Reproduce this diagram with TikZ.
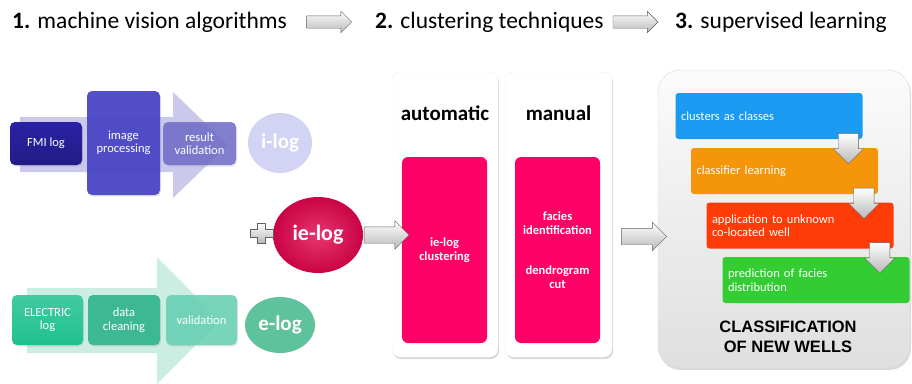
\documentclass[tikz,border=0pt]{standalone}
\usepackage{fontspec}
\setmainfont{Carlito}
\newfontfamily\arialfont{Liberation Sans}
\usepackage{xcolor}
\usetikzlibrary{arrows,shapes,calc,positioning,shadows}
\definecolor{fmiblue}{HTML}{2A22A6}
\definecolor{imgblue}{HTML}{4B47C6}
\definecolor{resblue}{HTML}{716ECB}
\definecolor{ilogblue}{HTML}{D3D3F3}
\definecolor{bigblue}{HTML}{BDBBE6}
\definecolor{elecgreen}{HTML}{1FC18F}
\definecolor{cleangreen}{HTML}{3CB893}
\definecolor{validgreen}{HTML}{66D2B3}
\definecolor{eloggreen}{HTML}{5EC29C}
\definecolor{biggreen}{HTML}{BFE9D9}
\definecolor{iepink}{HTML}{FF0066}
\definecolor{ielogred}{HTML}{E0044C}
\definecolor{stageblue}{HTML}{1A9AF0}
\definecolor{stageorange}{HTML}{F5950A}
\definecolor{stagered}{HTML}{FF3B08}
\definecolor{stagegreen}{HTML}{33CC33}

\begin{document}
\begin{tikzpicture}[x=1pt,y=-1pt]
		\tikzstyle{every node}=[font=\fontsize{12.5}{13.5}\selectfont, inner sep=0pt]
		\tikzstyle{logbox}=[rectangle, rounded corners=5pt, text=white, align=center, drop shadow={opacity=0.2, shadow xshift=1pt, shadow yshift=-1.5pt}]
		\tikzstyle{logcircle}=[ellipse, text=white, font=\fontsize{21}{24}\selectfont\bfseries]
		\tikzstyle{panel}=[rectangle, rounded corners=8pt, fill=white, draw=gray!15, minimum height=285pt, drop shadow={opacity=0.3, shadow xshift=1pt, shadow yshift=-2pt}]
		\tikzstyle{pinkbox}=[rectangle, rounded corners=6pt, fill=iepink, text=white, font=\fontsize{12.5}{13.5}\selectfont\bfseries, align=center, minimum width=85pt, minimum height=186pt]
		\tikzstyle{stagebox}=[rectangle, rounded corners=3pt, text=white, align=left, inner xsep=5.5pt, text width=176pt, minimum height=46pt]
		\tikzstyle{blockarrow}=[single arrow, draw=gray!75!black, top color=white, bottom color=gray!55, inner sep=8pt, single arrow head extend=6pt, minimum height=45pt]
		\tikzstyle{titlearrow}=[blockarrow, inner sep=6pt, single arrow head extend=4.5pt]
		\tikzstyle{downarrow}=[blockarrow, shape border rotate=270, inner sep=10pt, single arrow head extend=5pt, minimum height=30pt]
		\tikzstyle{steptitle}=[anchor=west, font=\fontsize{23.5}{26}\selectfont]
		\useasboundingbox (0,0) rectangle (912,383);

		\node [steptitle] (t1) at (12,22) {\textbf{1.} machine vision algorithms};
		\node [steptitle] (t2) at (375,22) {\textbf{2.} clustering techniques};
		\node [steptitle] (t3) at (675,22) {\textbf{3.} supervised learning};
		\node [titlearrow] (a12) at ($(t1.east)!0.5!(t2.west)+(-5,0)$) {};
		\node [titlearrow] (a23) at ($(t2.east)!0.5!(t3.west)+(-7,0)$) {};

		\fill [bigblue, opacity=0.8] (20,117) -- (173,117) -- (173,92) -- (228,145) -- (173,198) -- (173,172) -- (20,172) -- cycle;
		\node [logbox, top color=fmiblue, bottom color=fmiblue!80!black, minimum width=72pt, minimum height=43pt] (fmi) at (46,143.5) {FMI log};
		\node [logbox, fill=imgblue, fill opacity=0.95, text opacity=1, minimum width=73pt, minimum height=104pt] (imgproc) at (123.5,143) {image\\processing};
		\node [logbox, fill=resblue, fill opacity=0.85, text opacity=1, minimum width=73pt, minimum height=43pt] (resval) at (199.5,143.5) {result\\validation};
		\node [logcircle, fill=ilogblue, minimum width=64pt, minimum height=60pt] (ilog) at (280,143) {i-log};

		\fill [biggreen, opacity=0.8] (27,288) -- (157,288) -- (157,257) -- (220,320.5) -- (157,384) -- (157,353) -- (27,353) -- cycle;
		\node [logbox, top color=elecgreen!85!white, bottom color=elecgreen, minimum width=71pt, minimum height=50pt] (elec) at (47.5,320) {ELECTRIC\\log};
		\node [logbox, fill=cleangreen, minimum width=72pt, minimum height=50pt] (clean) at (124,320) {data\\cleaning};
		\node [logbox, fill=validgreen, fill opacity=0.85, text opacity=1, minimum width=71pt, minimum height=50pt] (valid) at (201.5,320) {validation};
		\node [logcircle, fill=eloggreen, minimum width=70pt, minimum height=56pt] (elog) at (280,325) {e-log};

		\node [logcircle, inner color=ielogred!80!white, outer color=ielogred!90!black, minimum width=90pt, minimum height=76pt, font=\fontsize{22}{24}\selectfont\bfseries] (ielog) at (318,235) {ie-log};
		\draw [draw=gray!75!black, top color=white, bottom color=gray!55, shift={(261.5,233)}] (-4,-10) -- (4,-10) -- (4,-4) -- (11.5,-4) -- (11.5,4) -- (4,4) -- (4,10) -- (-4,10) -- (-4,4) -- (-11.5,4) -- (-11.5,-4) -- (-4,-4) -- cycle;

		\node [panel, minimum width=106pt] (autopanel) at (445,214.5) {};
		\node [panel, minimum width=107pt] (manpanel) at (558.5,214.5) {};
		\node [font=\fontsize{21}{24}\selectfont\bfseries] (autotitle) at (445,113) {automatic};
		\node [font=\fontsize{21}{24}\selectfont\bfseries] (mantitle) at (558.5,113) {manual};
		\node [pinkbox] (autobox) at (444.5,250) {ie-log\\clustering};
		\node [pinkbox] (manbox) at (557.5,250) {facies\\identification\\[27pt]dendrogram\\cut};
		\node [blockarrow] (a1) at ($(ielog.east)!0.5!(autobox.west |- ielog.east)$) {};

		\node [rectangle, rounded corners=22pt, draw=gray!30, top color=gray!3, bottom color=gray!25, minimum width=252pt, minimum height=298pt, drop shadow={opacity=0.3, shadow xshift=1pt, shadow yshift=-2pt}] (clspanel) at (784,219) {};
		\node [blockarrow] (a2) at ($(manpanel.east |- ielog)!0.5!(clspanel.west |- ielog)+(5,1.5)$) {};
		\node [stagebox, fill=stageblue] (classes) at (769,116) {clusters as classes};
		\node [stagebox, fill=stageorange] (learn) at (784.5,171) {classifier learning};
		\node [stagebox, fill=stagered] (apply) at (800,225.5) {application to unknown\\co-located well};
		\node [stagebox, fill=stagegreen] (predict) at (816,280) {prediction of facies\\distribution};
		\node [downarrow] (d1) at ($(classes.south east)!0.5!(learn.north east)+(-22,0)$) {};
		\node [downarrow] (d2) at ($(learn.south east)!0.5!(apply.north east)+(-22,0)$) {};
		\node [downarrow] (d3) at ($(apply.south east)!0.5!(predict.north east)+(-22,0)$) {};
		\node [font=\arialfont\fontsize{16.5}{20}\selectfont\bfseries, align=center] (clstitle) at (788,337) {CLASSIFICATION\\OF NEW WELLS};
		\end{tikzpicture}
\end{document}
